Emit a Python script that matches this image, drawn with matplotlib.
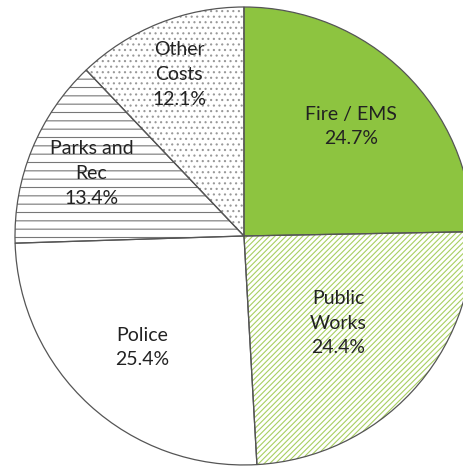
import numpy as np
import matplotlib
matplotlib.use("Agg")
from matplotlib import pyplot as plt

plt.rcParams['font.family'] = ['Lato', 'DejaVu Sans']
plt.rcParams['hatch.linewidth'] = 0.8

labels = ["Fire / EMS", "Public\nWorks", "Police", "Parks and\nRec", "Other\nCosts"]
values = [24.7, 24.4, 25.4, 13.4, 12.1]

faces = ["#8DC440", "white", "white", "white", "white"]
hatches = [None, "//////", None, "--", "..."]
hatch_cols = ["#8DC440", "#A8CF62", "white", "#777777", "#999999"]
label_dist = [0.67, 0.56, 0.66, 0.72, 0.76]

fig = plt.figure(figsize=(4.64, 4.66), dpi=100)
ax = fig.add_axes([0.0323, 0.0021, 0.987, 0.983])

# hatch layer
wedges, _ = ax.pie(values, startangle=90, counterclock=False, colors=faces,
                   wedgeprops=dict(linewidth=0))
for w, h, c in zip(wedges, hatches, hatch_cols):
    w.set_clip_on(False)
    if h:
        w.set_hatch(h)
        w.set_edgecolor(c)

# outline layer
outl, _ = ax.pie(values, startangle=90, counterclock=False,
                 wedgeprops=dict(fill=False, edgecolor="#555555", linewidth=0.9))
for w in outl:
    w.set_clip_on(False)

for w, lab, v, d in zip(wedges, labels, values, label_dist):
    ang = np.deg2rad((w.theta1 + w.theta2) / 2)
    ax.text(d * np.cos(ang), d * np.sin(ang), f"{lab}\n{v:.1f}%",
            ha="center", va="center", fontsize=14, color="#222222",
            linespacing=1.55)

ax.set_xlim(-1, 1)
ax.set_ylim(-1, 1)
ax.set_aspect("equal")
ax.axis("off")

fig.savefig("out.png", dpi=100)
